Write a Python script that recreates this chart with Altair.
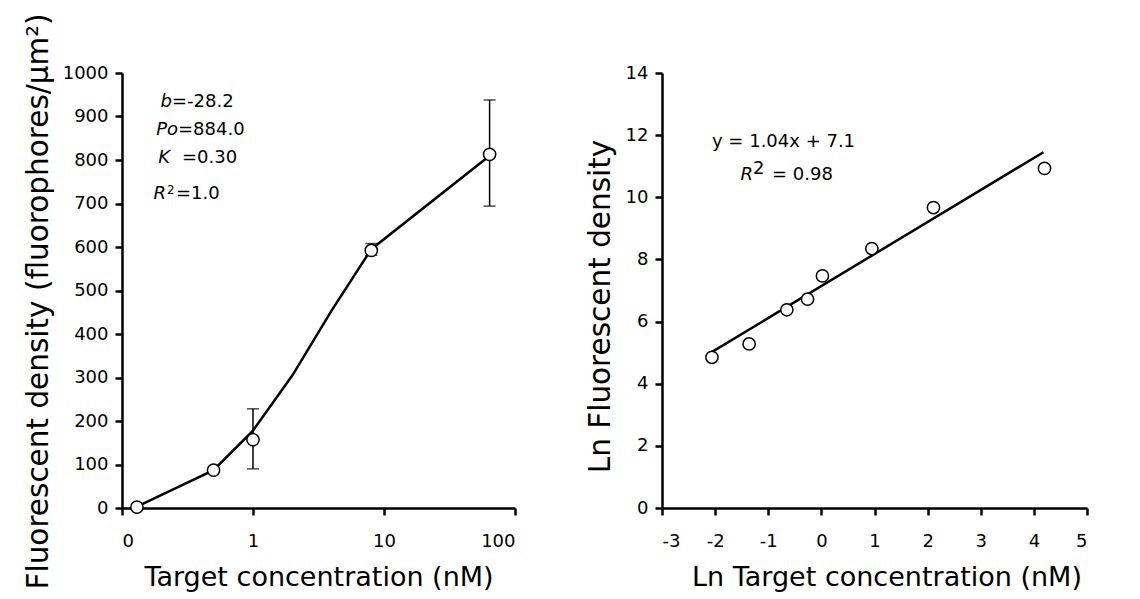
import altair as alt
import pandas as pd

# ---------------- Left panel data ----------------
conc = [0.13, 0.5, 1, 8, 64]
density = [2, 87, 157, 592, 813]
err_conc = [1, 8, 64]
err_low = [90, 581, 694]
err_high = [228, 608, 938]
fit_conc = [0.13, 0.5, 1, 2, 4, 8, 64]
fit_density = [3, 87, 178, 305, 455, 595, 810]
left_x_ticks = [0.1, 1, 10, 100]
left_y_ticks = list(range(0, 1001, 100))

# ---------------- Right panel data ----------------
ln_conc = [-2.06, -1.36, -0.65, -0.26, 0.02, 0.95, 2.11, 4.2]
ln_density = [4.85, 5.28, 6.38, 6.72, 7.47, 8.35, 9.67, 10.93]
ln_fit_x = [-2.08, 4.18]
ln_fit_y = [5.0, 11.45]
right_x_ticks = list(range(-3, 6))
right_y_ticks = list(range(0, 15, 2))

FONT = "DejaVu Sans"
W1, H1 = 393, 435
W2, H2 = 425, 435

pts_l = pd.DataFrame({"x": conc, "y": density})
err_l = pd.DataFrame({"x": err_conc, "lo": err_low, "hi": err_high})
fit_l = pd.DataFrame({"x": fit_conc, "y": fit_density})
pts_r = pd.DataFrame({"x": ln_conc, "y": ln_density})
fit_r = pd.DataFrame({"x": ln_fit_x, "y": ln_fit_y})

PLAIN = "datum.value + ''"


def xl(field="x"):
    return alt.X(f"{field}:Q", title="Target concentration (nM)",
                 scale=alt.Scale(type="log", domain=[0.1, 100]),
                 axis=alt.Axis(values=left_x_ticks, labelPadding=17, titlePadding=14,
                               labelExpr="datum.value < 0.5 ? '0' : datum.value + ''"))


def yl(field="y"):
    return alt.Y(f"{field}:Q", title="Fluorescent density (fluorophores/μm²)",
                 scale=alt.Scale(domain=[0, 1000], nice=False),
                 axis=alt.Axis(values=left_y_ticks, labelExpr=PLAIN,
                               titleFontSize=29.5, titleY=228, titlePadding=9))


def xr(field="x"):
    return alt.X(f"{field}:Q", title="Ln Target concentration (nM)",
                 scale=alt.Scale(domain=[-3, 5], nice=False),
                 axis=alt.Axis(values=right_x_ticks, labelExpr=PLAIN,
                               labelPadding=17, titlePadding=14, titleX=W2 / 2 + 12))


def yr(field="y"):
    return alt.Y(f"{field}:Q", title="Ln Fluorescent density",
                 scale=alt.Scale(domain=[0, 14], nice=False),
                 axis=alt.Axis(values=right_y_ticks, labelExpr=PLAIN,
                               titleFontSize=29.5, titleY=233, titlePadding=10))


def label(text, px, py, italic=False, align="left", size=18):
    return alt.Chart(alt.Data(values=[{}])).mark_text(
        text=text, font=FONT, fontSize=size,
        fontStyle="italic" if italic else "normal",
        align=align, baseline="alphabetic", color="black"
    ).encode(x=alt.value(px), y=alt.value(py))


circle = dict(shape="circle", filled=True, fill="white", stroke="black",
              strokeWidth=1.5, size=150, opacity=1)

left_fit = alt.Chart(fit_l).mark_line(color="black", strokeWidth=2.5).encode(x=xl(), y=yl())
left_err = alt.Chart(err_l).mark_rule(color="black", strokeWidth=1.5).encode(x=xl(), y=yl("lo"), y2="hi:Q")
left_cap_lo = alt.Chart(err_l).mark_tick(color="black", thickness=1.5, size=12, orient="horizontal").encode(x=xl(), y=yl("lo"))
left_cap_hi = alt.Chart(err_l).mark_tick(color="black", thickness=1.5, size=12, orient="horizontal").encode(x=xl(), y=yl("hi"))
left_pts = alt.Chart(pts_l).mark_point(**circle).encode(x=xl(), y=yl())

left = alt.layer(
    left_fit, left_err, left_cap_lo, left_cap_hi, left_pts,
    label("b", 50, 34, italic=True, align="right"),
    label("=-28.2", 50, 34),
    label("Po", 56, 62, italic=True, align="right"),
    label("=884.0", 56, 62),
    label("K", 48, 90, italic=True, align="right"),
    label("=0.30", 60, 90),
    label("R", 44, 126, italic=True, align="right"),
    label("2", 45, 121, size=12),
    label("=1.0", 54, 126),
).properties(width=W1, height=H1)

right_fit = alt.Chart(fit_r).mark_line(color="black", strokeWidth=2.5).encode(x=xr(), y=yr())
right_pts = alt.Chart(pts_r).mark_point(**circle).encode(x=xr(), y=yr())

right = alt.layer(
    right_fit, right_pts,
    label("y = 1.04x + 7.1", 50, 74),
    label("R", 91, 107, italic=True, align="right"),
    label("2", 91, 101),
    label("= 0.98", 110, 107),
).properties(width=W2, height=H2)

chart = alt.hconcat(left, right, spacing=68).properties(
    padding={"left": 15, "top": 4, "right": 5, "bottom": 5}
).configure_view(stroke=None).configure_axis(
    grid=False,
    labelFont=FONT, titleFont=FONT,
    labelFontSize=18, titleFontSize=27, titleFontWeight="normal",
    labelColor="black", titleColor="black",
    domainColor="black", tickColor="black",
    domainWidth=2.5, tickWidth=2.5, tickSize=7,
    labelPadding=7, titlePadding=10,
)

chart.save("out.html", embed_options={"renderer": "svg", "actions": False})
